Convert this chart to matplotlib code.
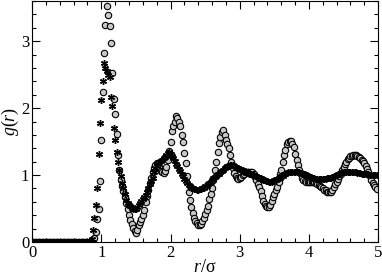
import numpy as np
import matplotlib
matplotlib.use("Agg")
import matplotlib.pyplot as plt
from matplotlib.ticker import MultipleLocator

plt.rcParams['font.family'] = ['Liberation Serif', 'DejaVu Serif']
plt.rcParams['mathtext.fontset'] = 'custom'
plt.rcParams['mathtext.rm'] = 'Liberation Serif'
plt.rcParams['mathtext.it'] = 'Liberation Serif:italic'

# circles: g(r), r = 0.90 ... 4.98 step 0.02
g_circ = [
    0.06, 0.15, 0.35, 0.49, 0.91, 1.52, 2.24, 2.83, 3.24, 3.52,
    3.39, 3.23, 2.98, 2.53, 2.14, 1.91, 1.61, 1.30, 1.08, 0.93,
    0.84, 0.76, 0.67, 0.58, 0.49, 0.40, 0.33, 0.27, 0.21, 0.16,
    0.14, 0.18, 0.25, 0.30, 0.34, 0.40, 0.48, 0.60, 0.68, 0.77,
    0.88, 0.96, 1.04, 1.10, 1.15, 1.18, 1.18, 1.12, 1.06, 1.04,
    1.03, 1.06, 1.12, 1.22, 1.36, 1.50, 1.66, 1.74, 1.80, 1.88,
    1.86, 1.80, 1.74, 1.60, 1.50, 1.33, 1.18, 0.98, 0.74, 0.63,
    0.53, 0.43, 0.36, 0.31, 0.28, 0.26, 0.26, 0.27, 0.31, 0.36,
    0.42, 0.48, 0.54, 0.64, 0.72, 0.80, 0.92, 1.08, 1.20, 1.35,
    1.48, 1.57, 1.64, 1.67, 1.60, 1.52, 1.46, 1.40, 1.30, 1.20,
    1.10, 1.03, 0.98, 0.95, 0.94, 0.95, 0.97, 1.00, 1.02, 1.04,
    1.05, 1.05, 1.05, 1.05, 1.04, 1.01, 0.97, 0.92, 0.87, 0.82,
    0.76, 0.68, 0.62, 0.57, 0.54, 0.53, 0.53, 0.56, 0.62, 0.67,
    0.72, 0.77, 0.82, 0.90, 1.02, 1.08, 1.20, 1.30, 1.37, 1.47,
    1.50, 1.51, 1.51, 1.47, 1.42, 1.32, 1.22, 1.15, 1.07, 1.01,
    0.96, 0.93, 0.91, 0.90, 0.90, 0.90, 0.90, 0.90, 0.89, 0.89,
    0.88, 0.87, 0.85, 0.83, 0.82, 0.80, 0.78, 0.77, 0.75, 0.74,
    0.74, 0.75, 0.78, 0.82, 0.86, 0.90, 0.94, 0.98, 1.02, 1.07,
    1.12, 1.16, 1.20, 1.24, 1.26, 1.28, 1.29, 1.30, 1.30, 1.30,
    1.29, 1.27, 1.25, 1.23, 1.21, 1.18, 1.14, 1.09, 1.05, 0.99,
    0.93, 0.88, 0.85, 0.82, 0.79,
]

# stars: g(r), r = 0.86 ... 4.98 step 0.02
g_star = [
    0.05, 0.18, 0.36, 0.55, 0.80, 1.31, 1.78, 2.12, 2.41, 2.67,
    2.60, 2.55, 2.50, 2.47, 2.17, 2.03, 1.71, 1.53, 1.35, 1.20,
    1.08, 0.98, 0.88, 0.80, 0.71, 0.63, 0.59, 0.56, 0.54, 0.51,
    0.49, 0.49, 0.50, 0.52, 0.55, 0.58, 0.61, 0.64, 0.67, 0.70,
    0.74, 0.80, 0.86, 0.91, 0.96, 1.04, 1.10, 1.14, 1.17, 1.19,
    1.21, 1.23, 1.25, 1.27, 1.30, 1.33, 1.35, 1.32, 1.28, 1.25,
    1.21, 1.17, 1.13, 1.09, 1.06, 1.02, 0.98, 0.94, 0.91, 0.88,
    0.85, 0.83, 0.81, 0.80, 0.79, 0.79, 0.78, 0.78, 0.79, 0.79,
    0.80, 0.81, 0.83, 0.84, 0.86, 0.88, 0.90, 0.92, 0.95, 0.97,
    0.99, 1.01, 1.02, 1.04, 1.06, 1.08, 1.10, 1.12, 1.13, 1.14,
    1.15, 1.15, 1.15, 1.14, 1.12, 1.11, 1.10, 1.09, 1.08, 1.07,
    1.06, 1.05, 1.04, 1.03, 1.02, 1.01, 1.00, 1.00, 0.99, 0.98,
    0.97, 0.96, 0.95, 0.94, 0.93, 0.92, 0.91, 0.91, 0.90, 0.90,
    0.90, 0.91, 0.92, 0.93, 0.94, 0.95, 0.96, 0.98, 0.99, 1.01,
    1.02, 1.03, 1.04, 1.05, 1.05, 1.05, 1.05, 1.05, 1.04, 1.04,
    1.04, 1.03, 1.03, 1.02, 1.01, 1.00, 0.99, 0.98, 0.97, 0.96,
    0.95, 0.95, 0.94, 0.94, 0.94, 0.94, 0.94, 0.94, 0.94, 0.94,
    0.95, 0.95, 0.96, 0.96, 0.97, 0.98, 0.99, 1.00, 1.01, 1.02,
    1.03, 1.04, 1.04, 1.05, 1.05, 1.05, 1.05, 1.05, 1.05, 1.04,
    1.04, 1.04, 1.03, 1.03, 1.03, 1.02, 1.02, 1.01, 1.01, 1.01,
    1.01, 1.00, 1.00, 1.00, 1.00, 1.00, 1.00,
]

# core region: g(r) = 0 for both series
n_zero_circ = 45   # r = 0.00 ... 0.88
n_zero_star = 43   # r = 0.00 ... 0.84

g_c = np.array([0.0] * n_zero_circ + g_circ)
r_c = np.round(0.02 * np.arange(len(g_c)), 2)
g_s = np.array([0.0] * n_zero_star + g_star)
r_s = np.round(0.02 * np.arange(len(g_s)), 2)

fig = plt.figure(figsize=(3.82, 2.75), dpi=100)
ax = fig.add_axes([0.084, 0.12, 0.906, 0.876])

ax.plot(r_c, g_c, 'o', ms=4.6, mfc='#c8c8c8', mec='black', mew=0.8, ls='none', zorder=2)
ax.plot(r_s, g_s, marker=(6, 2, 0), ms=5, color='black', mew=1.0, ls='none', zorder=3)

ax.set_xlim(0, 5)
ax.set_ylim(0, 3.6)
ax.xaxis.set_major_locator(MultipleLocator(1))
ax.xaxis.set_minor_locator(MultipleLocator(0.2))
ax.yaxis.set_major_locator(MultipleLocator(1))
ax.yaxis.set_minor_locator(MultipleLocator(0.2))
ax.tick_params(which='both', direction='in', top=True, right=True, labelsize=12, width=0.8)
ax.tick_params(which='major', length=6, pad=2)
ax.tick_params(which='minor', length=3)

ax.set_xlabel(r'$r$/σ', fontsize=13, labelpad=-1)
ax.set_ylabel(r'$g(r)$', fontsize=13, labelpad=0)

fig.savefig('out.png', dpi=100)
